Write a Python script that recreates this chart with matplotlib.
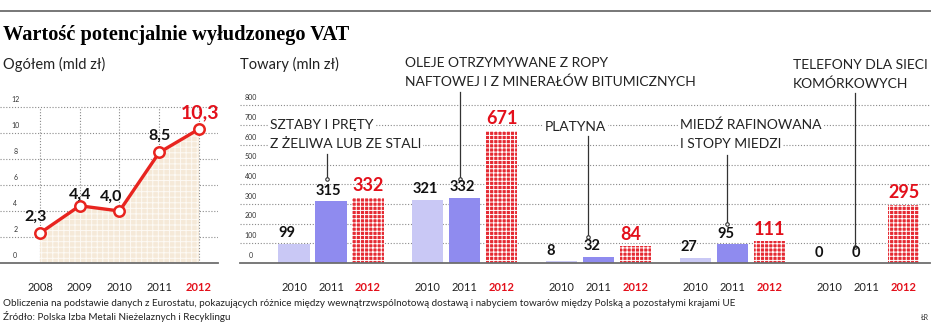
import numpy as np
import matplotlib.pyplot as plt
from matplotlib.lines import Line2D
from matplotlib.transforms import blended_transform_factory

plt.rcParams['font.family'] = ['Lato', 'DejaVu Sans']
plt.rcParams['hatch.linewidth'] = 0.7

# --- data ---
years_total = ['2008', '2009', '2010', '2011', '2012']
total_vat = [2.3, 4.4, 4.0, 8.5, 10.3]
total_labels = ['2,3', '4,4', '4,0', '8,5', '10,3']

goods = ['SZTABY I PRĘTY\nZ ŻELIWA LUB ZE STALI',
         'OLEJE OTRZYMYWANE Z ROPY\nNAFTOWEJ I Z MINERAŁÓW BITUMICZNYCH',
         'PLATYNA',
         'MIEDŹ RAFINOWANA\nI STOPY MIEDZI',
         'TELEFONY DLA SIECI\nKOMÓRKOWYCH']
goods_years = ['2010', '2011', '2012']
v2010 = [99, 321, 8, 27, 0]
v2011 = [315, 332, 32, 95, 0]
v2012 = [332, 671, 84, 111, 295]

# --- layout / styles ---
W, H = 936, 328
RED = '#e3101b'
GRID = '#8a8a8a'
DOT = (0, (1, 1.6))


def box(x0, y0, x1, y1):
    return [x0 / W, 1 - y1 / H, (x1 - x0) / W, (y1 - y0) / H]


fig = plt.figure(figsize=(W / 100, H / 100), dpi=100)
fig.add_artist(Line2D([0, 930 / W], [1 - 11 / H] * 2, color='#777777', lw=1.4))
fig.text(3 / W, 1 - 35 / H, 'Wartość potencjalnie wyłudzonego VAT', fontsize=14.7,
         fontweight='bold', family=['Liberation Serif', 'DejaVu Serif'], va='center')
fig.text(3 / W, 1 - 64 / H, 'Ogółem (mld zł)', fontsize=10.5, va='center', color='#222222')
fig.text(240 / W, 1 - 64 / H, 'Towary (mln zł)', fontsize=10.5, va='center', color='#222222')

foot = ['Obliczenia na podstawie danych z Eurostatu, pokazujących różnice między wewnątrzwspólnotową '
        'dostawą i nabyciem towarów między Polską a pozostałymi krajami UE',
        'Źródło: Polska Izba Metali Nieżelaznych i Recyklingu']
fig.text(3 / W, 1 - 304 / H, foot[0], fontsize=7.1, va='center', color='#222222')
fig.text(3 / W, 1 - 317 / H, foot[1], fontsize=7.1, va='center', color='#222222')
fig.text(925 / W, 1 - 318 / H, 'ŁR', fontsize=5, va='center', ha='center', color='#333333')

# --- left: total ---
ax1 = fig.add_axes(box(0, 98, 218, 263))
x = np.arange(len(total_vat))
ax1.set_xlim(-1.006, 4.478)
ax1.set_ylim(0, 12.69)
for v in range(2, 13, 2):
    ax1.axhline(v, color=GRID, lw=0.8, ls=DOT, zorder=0)
for xi in x:
    ax1.plot([xi, xi], [0, 12], color=GRID, lw=0.8, ls=DOT, zorder=0)
ax1.fill_between(x, total_vat, facecolor='#f5e9d8', edgecolor='#fdfaf5', hatch='+++',
                 lw=0, zorder=1)
ax1.plot(x, total_vat, color='#e8241f', lw=2.4, marker='o', ms=7.5, mfc='white',
         mec='#e8241f', mew=1.8, zorder=4, clip_on=False)
lab_off = [(-3, 12), (0, 8), (-6, 10), (0, 12), (1, 12)]
for i, (v, t) in enumerate(zip(total_vat, total_labels)):
    last = i == len(total_vat) - 1
    ax1.annotate(t, (x[i], v), xytext=lab_off[i], textcoords='offset points',
                 ha='center', va='center', fontsize=14 if last else 11.5,
                 fontweight='bold', color=RED if last else '#111111', zorder=5)
tr1 = blended_transform_factory(ax1.transAxes, ax1.transData)
for v in range(0, 13, 2):
    ax1.annotate(str(v), (0.07, v), xycoords=tr1, xytext=(0, 5.5), textcoords='offset points',
                 ha='center', va='center', fontsize=5, color='#333333')

# --- right: goods ---
ax2 = fig.add_axes(box(240, 98, 930, 263))
ax2.set_xlim(-1.46, 17.19)
ax2.set_ylim(0, 838)
for v in range(100, 801, 100):
    ax2.axhline(v, color=GRID, lw=0.8, ls=DOT, zorder=0)
tr2 = blended_transform_factory(ax2.transAxes, ax2.transData)
for v in range(0, 801, 100):
    ax2.annotate(str(v), (0.016, v), xycoords=tr2, xytext=(0, 5.5), textcoords='offset points',
                 ha='center', va='center', fontsize=5, color='#333333')

gap = 3.62
bw = 0.84
centers = np.arange(len(goods)) * gap
series = [v2010, v2011, v2012]
bar_style = [dict(color='#c9c8f5'), dict(color='#8f8bef'),
             dict(facecolor='#e52a33', edgecolor='white', hatch='++++', lw=0)]
ticks, ticklabels = [], []
for j, vals in enumerate(series):
    xs = centers + j
    ax2.bar(xs, vals, width=bw, zorder=2, **bar_style[j])
    for xv, v in zip(xs, vals):
        red = j == 2
        ax2.annotate(str(v), (xv - bw / 2, v), xytext=(0, 2.5), textcoords='offset points',
                     ha='left', va='bottom', fontsize=13 if red else 10.5,
                     fontweight='bold', color=RED if red else '#111111', zorder=5)
    ticks += list(xs)
    ticklabels += [goods_years[j]] * len(xs)

# annotations: text pos (x, y of first line), leader line x, top, bottom
ann = [(-0.65, 701, 0.9, 553, 427),
       (3.0, 1016, 4.49, 868, 427),
       (6.78, 690, 7.95, 645, 132),
       (10.43, 701, 11.7, 548, 198),
       (13.49, 1005, 15.16, 863, 81)]
for name, (tx, ty, lx, ltop, lbot) in zip(goods, ann):
    for k, line in enumerate(name.split('\n')):
        ax2.text(tx, ty - k * 96, line, fontsize=10, va='center', ha='left', color='#222222',
                 bbox=dict(fc='white', ec='none', pad=1.5), zorder=3, clip_on=False)
    ax2.plot([lx, lx], [ltop, lbot], color='#333333', lw=0.9, zorder=3, clip_on=False)
    ax2.plot(lx, lbot, 'o', ms=2.5, mfc='white', mec='#333333', mew=0.8, zorder=3)

for ax, tk, tl in [(ax1, x, years_total), (ax2, ticks, ticklabels)]:
    for s in ['top', 'right', 'left']:
        ax.spines[s].set_visible(False)
    ax.spines['bottom'].set_color('#6e6e6e')
    ax.spines['bottom'].set_linewidth(1.3)
    ax.set_yticks([])
    ax.set_xticks(tk, tl)
    ax.tick_params(axis='x', length=0, pad=14, labelsize=8, labelcolor='#222222')
    for lbl in ax.get_xticklabels():
        if lbl.get_text() == '2012':
            lbl.set_color(RED)
            lbl.set_fontweight('bold')
    ax.set_facecolor('none')

fig.savefig('out.png', dpi=100)
